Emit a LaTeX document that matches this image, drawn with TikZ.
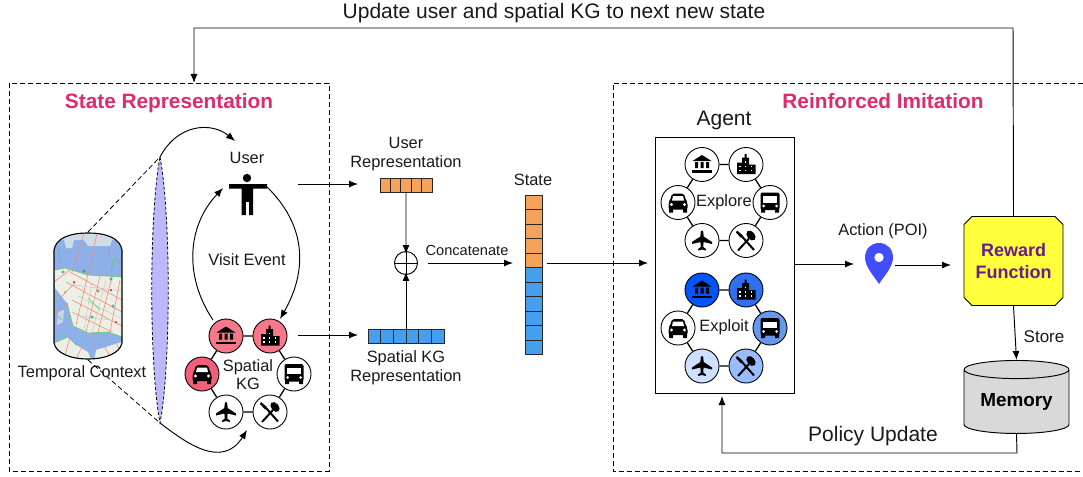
\documentclass[tikz,border=0pt]{standalone}
\usepackage{fontspec}
\setmainfont{Liberation Sans}
\usetikzlibrary{arrows.meta,shapes.geometric,shapes.misc}
\definecolor{titlepink}{HTML}{DF2A6B}
\definecolor{cellorange}{HTML}{F5A25B}
\definecolor{cellblue}{HTML}{459FEE}
\definecolor{kgred}{HTML}{F7788A}
\definecolor{kgdeep}{HTML}{F25F78}
\definecolor{lensblue}{HTML}{B9B9FB}
\definecolor{pinblue}{HTML}{3F4DFB}
\definecolor{rewardyellow}{HTML}{FFFF3C}
\definecolor{rewardtext}{HTML}{6A1B8F}
\definecolor{memgray}{HTML}{D9D9D9}
\definecolor{mapwater}{HTML}{8DB0E8}
\definecolor{mapland}{HTML}{EDEFE6}
\definecolor{maproad}{HTML}{EE8C78}
\definecolor{mapgreen}{HTML}{62CF6E}
\definecolor{exone}{HTML}{0055FF}
\definecolor{extwo}{HTML}{2F6FF0}
\definecolor{exthree}{HTML}{6699EE}
\definecolor{exfour}{HTML}{CFE0FF}
\definecolor{exfive}{HTML}{99BBFF}
\tikzset{
  arrow/.style={-{Latex[length=9pt,width=7pt]},line width=0.95pt},
  plain/.style={line width=0.95pt},
  label/.style={font=\fontsize{16.4}{19.5}\selectfont,inner sep=0pt,align=center,text=black!90},
  biglabel/.style={label,font=\fontsize{21}{24}\selectfont},
  title/.style={font=\fontsize{20.8}{24}\selectfont\bfseries,text=titlepink,inner sep=0pt,anchor=base},
  frame/.style={draw,line width=0.8pt,dash pattern=on 5pt off 3pt},
  cell/.style={draw=black!85,line width=0.8pt,minimum width=#1,inner sep=0pt},
  kgnode/.style={circle,draw=black,line width=0.9pt,minimum size=34pt,inner sep=0pt},
  pics/bank/.style={code={
    \fill (-9.5,-3.5) -- (0,-9.5) -- (9.5,-3.5) -- cycle;
    \fill (-7,-2.5) rectangle (-4,3.5) (-1.5,-2.5) rectangle (1.5,3.5) (4,-2.5) rectangle (7,3.5);
    \fill (-10,5.5) rectangle (10,8);}},
  pics/city/.style={code={
    \fill (-9,-2) rectangle (-3,9.5) (-4,-7) rectangle (3,9.5) (-1.5,-10.5) rectangle (0.5,-6) (2,0) rectangle (9.5,9.5);
    \foreach \wx in {-7,-1.5,4.5}{\foreach \wy in {1,5}{\fill[white] (\wx,\wy) rectangle ++(1.6,1.6);}}
    \fill[white] (-1.5,-3.5) rectangle ++(1.6,1.6);}},
  pics/car/.style={code={
    \fill[rounded corners=2pt] (-6,-9) -- (6,-9) -- (8,-2) -- (9.5,0) -- (9.5,7) -- (-9.5,7) -- (-9.5,0) -- (-8,-2) -- cycle;
    \fill (-9,6) rectangle (-5,10) (5,6) rectangle (9,10);
    \fill[white] (-5,-6.5) -- (5,-6.5) -- (6,-2) -- (-6,-2) -- cycle;
    \fill[white] (-6.5,2) circle (1.6) (6.5,2) circle (1.6);}},
  pics/bus/.style={code={
    \fill[rounded corners=2pt] (-9.5,-10) rectangle (9.5,7.5);
    \fill (-9,6) rectangle (-5,10) (5,6) rectangle (9,10);
    \fill[white] (-7,-6.5) rectangle (7,0);
    \fill[white] (-6.5,3.5) circle (1.5) (6.5,3.5) circle (1.5);}},
  pics/plane/.style={code={
    \fill (0,-10) .. controls (1.6,-10) and (1.6,-6) .. (1.6,-4) -- (10,1.5) -- (10,3.5) -- (1.6,1.5) -- (1.2,6.5) -- (3.8,8.5) -- (3.8,10) -- (0,9) -- (-3.8,10) -- (-3.8,8.5) -- (-1.2,6.5) -- (-1.6,1.5) -- (-10,3.5) -- (-10,1.5) -- (-1.6,-4) .. controls (-1.6,-6) and (-1.6,-10) .. (0,-10) -- cycle;}},
  pics/fork/.style={code={
    \draw[line width=2pt] (-4,-4) -- (8,9.5);
    \fill (-9,-10) -- (-3,-5) -- (-5,-2.5) -- (-10,-8) -- cycle;
    \draw[line width=2pt] (3,-2) -- (-8,10);
    \fill[rotate around={40:(5,-5)}] (5,-5) ellipse (3.8 and 5.6);}}
}
\newcommand{\kgring}[9]{%
  \node[kgnode,fill=#4] (#1bank) at (#2-22,#3-38) {};
  \node[kgnode,fill=#5] (#1city) at (#2+22,#3-38) {};
  \node[kgnode,fill=#6] (#1car) at (#2-46,#3) {};
  \node[kgnode,fill=#7] (#1bus) at (#2+46,#3) {};
  \node[kgnode,fill=#8] (#1plane) at (#2-22,#3+38) {};
  \node[kgnode,fill=#9] (#1fork) at (#2+22,#3+38) {};
  \draw[line width=1.3pt] (#1bank) -- (#1city) -- (#1bus) -- (#1fork) -- (#1plane) -- (#1car) -- (#1bank);
  \foreach \kgicon in {bank,city,car,bus,plane,fork}{\pic at (#1\kgicon) {\kgicon};}
}
\begin{document}
\begin{tikzpicture}[x=1pt,y=-1pt]
\useasboundingbox (0,0) rectangle (1083,476);
% frames
\draw[frame] (9,83) rectangle (329,471);
\draw[frame] (1083,83) -- (613,83) -- (613,471) -- (1083,471);
\node[title] (staterep) at (169,109) {State Representation};
\node[title] (reinforced) at (883,109) {Reinforced Imitation};
% map
\begin{scope}
\clip (54,250) .. controls (56,238) and (70,233) .. (88,233) .. controls (106,233) and (120,238) .. (122,250) -- (122,343) .. controls (120,353) and (106,359) .. (88,359) .. controls (70,359) and (56,353) .. (54,343) -- cycle;
\fill[mapwater] (54,230) rectangle (122,362);
\fill[mapland] (54,270) -- (65,268) -- (88,275) -- (122,277) -- (122,337) -- (108,332) -- (88,333) -- (73,326) -- (67,303) -- (55,288) -- cycle;
\fill[mapland] (54,343) -- (68,337) -- (76,345) -- (88,352) -- (92,362) -- (54,362) -- cycle;
\fill[mapland] (96,350) -- (122,342) -- (122,362) -- (94,362) -- cycle;
\fill[mapland!70!mapwater] (54,230) rectangle (122,240);
\fill[mapland!70!mapwater] (64,240) -- (74,240) -- (72,248) -- (66,248) -- cycle (84,240) -- (112,240) -- (110,246) -- (88,246) -- cycle;
\fill[mapland!60!mapwater] (58,312) -- (64,310) -- (63,322) -- (57,325) -- cycle;
\foreach \ax/\ay/\bx/\by in {54/282/70/270,55/303/75/283,54/315/68/303,84/233/72/272,97/233/88/275,70/272/122/300,66/282/122/312,72/300/122/326,72/312/112/332,88/274/76/325,100/276/86/332,112/277/98/332,120/280/110/332,70/337/64/359,82/347/76/359,104/346/112/359,116/344/122/352}
  \draw[maproad,line width=0.6pt] (\ax,\ay) -- (\bx,\by);
\foreach \ax/\ay/\bx/\by in {74/285/122/291,78/296/120/318,92/282/84/330,106/280/92/332,80/316/110/320}
  \draw[black!25,line width=0.4pt] (\ax,\ay) -- (\bx,\by);
\draw[mapgreen,line width=0.7pt] (55,270) -- (65,268) -- (88,275) -- (122,277) (67,303) -- (73,326) -- (88,333) -- (108,332) -- (122,337) (88,298) -- (100,310) (54,343) -- (68,337) -- (76,345) (110,260) -- (122,262);
\draw[black!40,line width=0.4pt] (59,248) -- (60,265) (110,246) -- (108,255) (58,316) -- (62,320) (113,262) -- (111,272);
\draw[mapgreen!70!black,line width=0.5pt] (84,271) circle (1.2) (98,291) circle (1.2) (92,317) circle (1.2);
\draw[cyan!70!black,line width=0.5pt] (111,279) circle (1.2) (113,306) circle (1.2) (63,272) circle (1.2);
\fill[red!70!black] (74,282) circle (1) (111,290) circle (1) (116,322) circle (1);
\fill[orange] (65,292) circle (1);
\end{scope}
\draw[line width=1.1pt] (54,250) .. controls (56,238) and (70,233) .. (88,233) .. controls (106,233) and (120,238) .. (122,250) -- (122,343) .. controls (120,353) and (106,359) .. (88,359) .. controls (70,359) and (56,353) .. (54,343) -- cycle;
\coordinate (maptop) at (88,232);
\coordinate (mapbot) at (88,360);
\coordinate (lenstop) at (160,157);
\coordinate (lensbot) at (160,423);
\draw[line width=0.8pt,dash pattern=on 5pt off 3pt] (maptop) -- (lenstop);
\draw[line width=0.8pt,dash pattern=on 5pt off 3pt] (mapbot) -- (lensbot);
\node[label] (temporal) at (82,373.5) {Temporal Context};
% lens
\draw[fill=lensblue,line width=0.8pt,dash pattern=on 3pt off 2pt] (lenstop) .. controls (171,215) and (171,365) .. (lensbot) .. controls (149,365) and (149,215) .. (lenstop);
% user
\node[label] (user) at (247,157.5) {User};
\fill (247,178) circle (4.2);
\fill (229,184) rectangle (267,188.5) (241.5,184) rectangle (253,215);
\fill[white] (245.5,202) rectangle (249,216);
\coordinate (userin) at (223,188);
\coordinate (userout) at (267,187);
\coordinate (userright) at (298,184);
\coordinate (usertop) at (235,141);
% spatial kg
\kgring{s}{248}{374}{kgred}{kgred}{kgdeep}{white}{white}{white}
\node[label,font=\fontsize{16.4}{18}\selectfont] (spatial) at (248,375) {Spatial\\KG};
\node[label] (visit) at (247,259.5) {Visit Event};
\coordinate (kgbottom) at (247,430);
\coordinate (kgright) at (298,335);
\coordinate (kgin) at (280,319);
\coordinate (kgout) at (213,320);
\draw[arrow] (lenstop) .. controls (178,123) and (212,122) .. (usertop);
\draw[arrow] (lensbot) .. controls (185,442) and (222,470) .. (kgbottom);
\draw[arrow] (kgout) .. controls (183,275) and (188,225) .. (userin);
\draw[arrow] (userout) .. controls (306,225) and (308,270) .. (kgin);
% representations
\node[label] (userlabel) at (406,154) {User\\Representation};
\node[label] (kglabel) at (406,368) {Spatial KG\\Representation};
\foreach \i in {0,...,4}
  \node[cell=10.4pt,fill=cellorange,minimum height=14pt] (u\i) at (385.2+10.4*\i,185) {};
\foreach \i in {0,...,5}
  \node[cell=12.67pt,fill=cellblue,minimum height=14pt] (k\i) at (374.3+12.67*\i,336) {};
\coordinate (userrep) at (358,184);
\coordinate (kgrep) at (358,335);
\draw[arrow] (userright) -- (userrep);
\draw[arrow] (kgright) -- (kgrep);
\node[circle,draw,plain,minimum size=23pt,inner sep=0pt] (oplus) at (406,263) {};
\draw[line width=0.5pt] (oplus.north) -- (oplus.south) (oplus.west) -- (oplus.east);
\draw[arrow] (u2.south) -- ([yshift=-3pt]oplus.north);
\draw[arrow] (k2.north -| oplus) -- ([yshift=3pt]oplus.south);
\node[label,font=\fontsize{14.6}{17}\selectfont] (concat) at (467,250) {Concatenate};
\coordinate (concatout) at (428,263);
\coordinate (concatin) at (513,263);
\draw[arrow] (concatout) -- (concatin);
% state
\node[label] (statelabel) at (533,179.5) {State};
\foreach \i in {0,...,4}
  \node[cell=17pt,fill=cellorange,minimum height=14.5pt] (st\i) at (533.5,202.2+14.5*\i) {};
\foreach \i in {5,...,10}
  \node[cell=17pt,fill=cellblue,minimum height=14.5pt] (st\i) at (533.5,202.2+14.5*\i) {};
\coordinate (stateout) at (547,263);
\coordinate (agentin) at (648,263);
\draw[arrow] (stateout) -- (agentin);
% agent
\node[draw,plain,minimum width=139pt,minimum height=256pt,inner sep=0pt] (agent) at (724.5,265) {};
\node[biglabel] (agentlabel) at (724,120.5) {Agent};
\kgring{e}{724}{202.5}{white}{white}{white}{white}{white}{white}
\node[label] (explore) at (724,202.5) {Explore};
\kgring{x}{724}{328}{exone}{extwo}{white}{exthree}{exfour}{exfive}
\node[label] (exploit) at (724,327.5) {Exploit};
% action
\coordinate (agentout) at (794,264);
\coordinate (pinin) at (854,264);
\coordinate (pinout) at (895,265);
\coordinate (rewardin) at (951,265);
\draw[arrow] (agentout) -- (pinin);
\draw[arrow] (pinout) -- (rewardin);
\node[label] (action) at (883,231) {Action (POI)};
\fill[pinblue,even odd rule] (879,284) .. controls (874,276) and (865,267) .. (865,257.5) .. controls (865,249) and (871,243) .. (879,243) .. controls (887,243) and (893,249) .. (893,257.5) .. controls (893,267) and (884,276) .. (879,284) -- cycle (879,257.5) circle (4.8);
% reward, memory
\node[chamfered rectangle,chamfered rectangle xsep=4pt,chamfered rectangle ysep=4pt,draw,plain,fill=rewardyellow,minimum width=99pt,minimum height=89pt,inner sep=0pt,align=center,font=\fontsize{18}{22.5}\selectfont\bfseries,text=rewardtext] (reward) at (1013.5,261) {Reward\\Function};
\node[cylinder,shape border rotate=90,aspect=0.25,draw,plain,fill=memgray,minimum width=105pt,minimum height=73pt,inner sep=0pt,anchor=north,font=\fontsize{18.9}{22}\selectfont\bfseries] (memory) at (1016.5,360) {Memory};
\draw[arrow] (reward.south) -- (memory.north);
\node[label] (store) at (1044,336.5) {\fontsize{17}{20}\selectfont Store};
% feedback
\coordinate (topright) at (1013,28);
\coordinate (topleft) at (194,28);
\coordinate (frametop) at (194,83);
\draw[arrow] (reward.north) -- (topright) -- (topleft) -- (frametop);
\node[biglabel] (update) at (554,13) {Update user and spatial KG to next new state};
\coordinate (membot) at (1017,453);
\coordinate (agentbot) at (722,453);
\coordinate (agentunder) at (722,396);
\draw[arrow] (memory.south) -- (membot) -- (agentbot) -- (agentunder);
\node[biglabel] (policy) at (873,436) {Policy Update};
\end{tikzpicture}
\end{document}
